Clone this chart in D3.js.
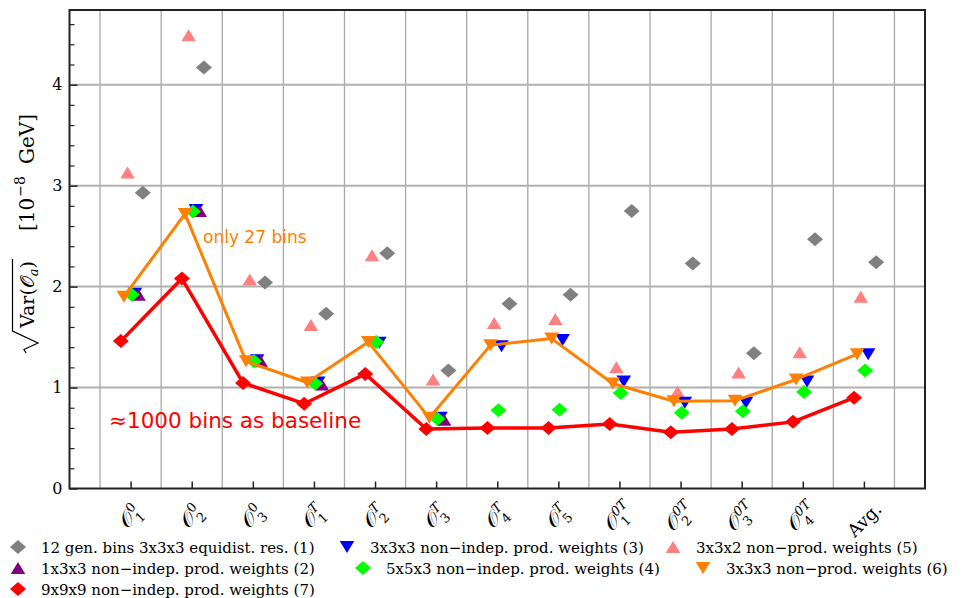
<!DOCTYPE html>
<html><head><meta charset="utf-8">
<script src="https://cdn.jsdelivr.net/npm/d3@7"></script>
<style>body{margin:0;background:#fff} svg{display:block}</style>
</head><body>
<svg id="c" width="964" height="598"></svg>
<script>
// ---------- data ----------
const categories = ["O1^0","O2^0","O3^0","O1^T","O2^T","O3^T","O4^T","O5^T","O1^0T","O2^0T","O3^0T","O4^0T","Avg."];
const labelSup = ["0","0","0","T","T","T","T","T","0T","0T","0T","0T",""];
const labelSub = ["1","2","3","1","2","3","4","5","1","2","3","4",""];
const yTicks = [0,1,2,3,4];

const gray12   = [2.93, 4.17, 2.04, 1.73, 2.33, 1.17, 1.83, 1.92, 2.75, 2.23, 1.34, 2.47, 2.24];
const purple1  = [1.92, 2.75, 1.26, 1.03, null, 0.68, null, null, null, null, null, null, null];
const blue333  = [1.93, 2.76, 1.27, 1.05, 1.445, 0.70, 1.41, 1.47, 1.06, 0.85, 0.85, 1.06, 1.33];
const green553 = [1.92, 2.745, 1.26, 1.04, 1.45, 0.69, 0.775, 0.78, 0.947, 0.75, 0.765, 0.955, 1.17];
const pink332  = [3.13, 4.49, 2.07, 1.62, 2.31, 1.08, 1.64, 1.68, 1.20, 0.96, 1.15, 1.35, 1.90];
const orange333= [1.90, 2.72, 1.26, 1.05, 1.45, 0.70, 1.42, 1.485, 1.04, 0.864, 0.87, 1.08, 1.33];
const red999   = [1.46, 2.08, 1.046, 0.84, 1.135, 0.59, 0.60, 0.60, 0.64, 0.557, 0.59, 0.66, 0.90];

const legendLabels = [
  "12 gen. bins 3x3x3 equidist. res. (1)",
  "1x3x3 non\u2212indep. prod. weights (2)",
  "3x3x3 non\u2212indep. prod. weights (3)",
  "5x5x3 non\u2212indep. prod. weights (4)",
  "3x3x2 non\u2212prod. weights (5)",
  "3x3x3 non\u2212prod. weights (6)",
  "9x9x9 non\u2212indep. prod. weights (7)"
];

// ---------- styles ----------
const series = [
  {id:1, values:gray12,   color:"#808080", shape:"diamond", off:0.20,  line:false},
  {id:5, values:pink332,  color:"#ff8080", shape:"up",      off:-0.05, line:false},
  {id:3, values:blue333,  color:"#0000ff", shape:"down",    off:0.07,  line:false},
  {id:2, values:purple1,  color:"#800080", shape:"up",      off:0.13,  line:false},
  {id:4, values:green553, color:"#00ff00", shape:"diamond", off:0.02,  line:false},
  {id:6, values:orange333,color:"#ff8000", shape:"down",    off:-0.11, line:true, lw:3},
  {id:7, values:red999,   color:"#ff0000", shape:"diamond", off:-0.16, line:true, lw:3.5}
];
const styleById = {}; series.forEach(s => styleById[s.id] = s);

const shapes = {
  diamond: "M0,-7L8,0L0,7L-8,0Z",
  up: "M0,-6L7.3,6L-7.3,6Z",
  down: "M0,6L7.3,-6L-7.3,-6Z"
};

const svg = d3.select("#c");
svg.append("rect").attr("width",964).attr("height",598).attr("fill","#fff");

const L = 69.5, R = 925, T = 10, B = 488.5;
const x = d3.scaleLinear().domain([-1, 13]).range([L, R]);
const y = d3.scaleLinear().domain([0, 4.74]).range([B, T]);

const serif = "'DejaVu Serif', 'Liberation Serif', serif";

// grid
const grid = svg.append("g");
grid.selectAll("line.v").data(d3.range(14).map(i => i - 0.5)).join("line")
  .attr("x1", d => x(d)).attr("x2", d => x(d)).attr("y1", T).attr("y2", B)
  .attr("stroke", "#a8a8a8").attr("stroke-width", 1.3);
grid.selectAll("line.h").data([1,2,3,4]).join("line")
  .attr("x1", L).attr("x2", R).attr("y1", d => y(d)).attr("y2", d => y(d))
  .attr("stroke", "#b0b0b0").attr("stroke-width", 2);

// series
const lineGen = d3.line().x(d => x(d.i)).y(d => y(d.v));
series.forEach(s => {
  const pts = s.values.map((v, i) => ({i: i + s.off, v})).filter(d => d.v != null);
  const g = svg.append("g");
  if (s.line) {
    g.append("path").datum(pts).attr("d", lineGen).attr("fill", "none")
      .attr("stroke", s.color).attr("stroke-width", s.lw).attr("stroke-linejoin", "round");
  }
  g.selectAll("path.m").data(pts).join("path").attr("class","m")
    .attr("d", shapes[s.shape]).attr("fill", s.color)
    .attr("transform", d => `translate(${x(d.i)},${y(d.v)})`);
});

// axes
const xAxis = svg.append("g").attr("transform", `translate(0,${B})`)
  .call(d3.axisBottom(x).tickValues(d3.range(13)).tickSize(-7).tickFormat(""));
xAxis.select(".domain").remove();
xAxis.selectAll(".tick line").attr("stroke", "#222").attr("stroke-width", 1.5);

const yAxis = svg.append("g").attr("transform", `translate(${L},0)`)
  .call(d3.axisLeft(y).tickValues(yTicks).tickSize(-8).tickPadding(7).tickFormat(d3.format("d")));
yAxis.select(".domain").remove();
yAxis.selectAll(".tick line").attr("stroke", "#222").attr("stroke-width", 1.5);
yAxis.selectAll(".tick text").attr("font-family", serif).attr("font-size", 16).attr("fill","#000");
const minor = d3.range(0, 4.75, 0.2).filter(v => Math.abs(v - Math.round(v)) > 1e-6);
const yMinor = svg.append("g").attr("transform", `translate(${L},0)`)
  .call(d3.axisLeft(y).tickValues(minor).tickSize(-5).tickFormat(""));
yMinor.select(".domain").remove();
yMinor.selectAll(".tick line").attr("stroke", "#222").attr("stroke-width", 1.2);

// frame
svg.append("rect").attr("x", L).attr("y", T).attr("width", R - L).attr("height", B - T)
  .attr("fill", "none").attr("stroke", "#222").attr("stroke-width", 2);

// x tick labels
const OCH = "\u{1D4AA}";
categories.forEach((c, i) => {
  const g = svg.append("g").attr("transform", `translate(${x(i)},${i === 12 ? 520 : 517}) rotate(-45)`);
  const inner = g.append("g");
  if (labelSup[i] === "" && labelSub[i] === "") {
    inner.append("text").text(c).attr("font-family", serif).attr("font-size", 18);
  } else {
    const o = inner.append("text").text(OCH).attr("font-family", serif).attr("font-size", 21);
    const w = o.node().getComputedTextLength();
    inner.append("text").text(labelSup[i]).attr("x", w + 0.5).attr("y", -8)
      .attr("font-family", serif).attr("font-size", 13).attr("font-style", labelSup[i].includes("T") ? "italic" : "normal");
    inner.append("text").text(labelSub[i]).attr("x", w + 0.5).attr("y", 6)
      .attr("font-family", serif).attr("font-size", 13);
  }
  const bb = inner.node().getBBox();
  inner.attr("transform", `translate(${-bb.x - bb.width/2},${-bb.y - bb.height/2})`);
});

// y axis label
(function(){
  const g = svg.append("g").attr("transform", "translate(34,353) rotate(-90)");
  const fs = 19;
  let cx = 25;
  const t1 = g.append("text").text("Var(").attr("x", cx).attr("font-family", serif).attr("font-size", fs);
  cx += t1.node().getComputedTextLength();
  const t2 = g.append("text").text(OCH).attr("x", cx).attr("font-family", serif).attr("font-size", fs);
  cx += t2.node().getComputedTextLength();
  const t3 = g.append("text").text("a").attr("x", cx).attr("y", 4).attr("font-family", serif).attr("font-style","italic").attr("font-size", 13);
  cx += t3.node().getComputedTextLength();
  const t4 = g.append("text").text(")").attr("x", cx).attr("font-family", serif).attr("font-size", fs);
  cx += t4.node().getComputedTextLength() + 2;
  g.append("path").attr("d", `M0,-8L3.5,-10L10,4L22,-21.5L${cx},-21.5`).attr("fill","none")
    .attr("stroke","#000").attr("stroke-width",1.2);
  const fb = 20;
  let bx = 122;
  const b1 = g.append("text").text("[10").attr("x", bx).attr("font-family", serif).attr("font-size", fb);
  bx += b1.node().getComputedTextLength() + 1;
  const b2 = g.append("text").text("\u22128").attr("x", bx).attr("y", -9).attr("font-family", serif).attr("font-size", 14);
  bx += b2.node().getComputedTextLength() + 12;
  g.append("text").text("GeV]").attr("x", bx).attr("font-family", serif).attr("font-size", fb);
})();

// annotations
svg.append("text").text("only 27 bins").attr("x", 203).attr("y", 243)
  .attr("font-family", "'DejaVu Sans', sans-serif").attr("font-size", 17).attr("fill", "#ff8000");
svg.append("text").text("\u22481000 bins as baseline").attr("x", 109).attr("y", 428)
  .attr("font-family", "'DejaVu Sans', sans-serif").attr("font-size", 21.5).attr("fill", "#ff0000");

// legend
const legRows = [[1,3,5],[2,4,6],[7]];
const legMarkX = [[18,347,673],[18,363,703],[18]];
const legY = [547, 568, 589];
legRows.forEach((row, r) => {
  row.forEach((id, k) => {
    const s = styleById[id];
    const mx = legMarkX[r][k];
    svg.append("path").attr("d", shapes[s.shape]).attr("fill", s.color)
      .attr("transform", `translate(${mx},${legY[r]})`);
    svg.append("text").text(legendLabels[id-1]).attr("x", mx + 23).attr("y", legY[r] + 5.5)
      .attr("font-family", serif).attr("font-size", 15).attr("fill", "#000");
  });
});
</script>
</body></html>
